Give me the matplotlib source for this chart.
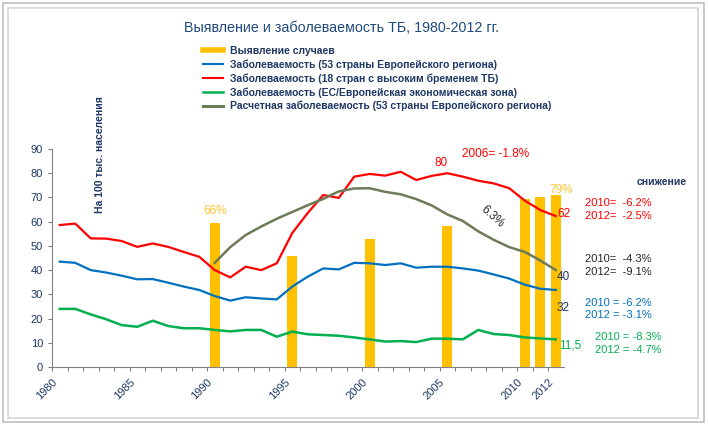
import matplotlib
matplotlib.use('Agg')
from matplotlib import pyplot as plt
from matplotlib.patches import Rectangle
from matplotlib.lines import Line2D
import numpy as np

plt.rcParams['font.family'] = ['Liberation Sans', 'DejaVu Sans']

YEARS = list(range(1980, 2013))

# Заболеваемость, 53 страны Европейского региона
EUR53 = [43.5, 43.0, 40.0, 39.0, 37.7, 36.2, 36.3, 34.8, 33.2, 31.8,
         29.3, 27.4, 28.8, 28.3, 27.9, 33.2, 37.3, 40.7, 40.3, 43.0,
         42.8, 42.1, 42.8, 41.0, 41.4, 41.4, 40.7, 39.8, 38.2, 36.5,
         34.0, 32.3, 31.8]
# Заболеваемость, 18 стран с высоким бременем ТБ
HBC18 = [58.6, 59.2, 53.1, 53.0, 52.0, 49.6, 51.0, 49.6, 47.5, 45.5,
         40.0, 37.0, 41.4, 40.0, 42.8, 55.3, 63.6, 71.0, 69.8, 78.6,
         79.7, 79.0, 80.6, 77.2, 78.9, 80.0, 78.6, 76.9, 75.8, 73.8,
         68.7, 64.8, 62.3]
# Заболеваемость, ЕС/ЕЭЗ
EU_EEA = [24.0, 24.0, 21.7, 19.7, 17.3, 16.6, 19.1, 16.9, 16.0, 16.0,
          15.3, 14.7, 15.3, 15.3, 12.5, 14.6, 13.5, 13.2, 12.9, 12.2,
          11.4, 10.5, 10.7, 10.3, 11.7, 11.7, 11.4, 15.3, 13.6, 13.2,
          12.2, 11.8, 11.4]
# Расчетная заболеваемость, 1990-2012
EST_YEARS = list(range(1990, 2013))
EST53 = [43.0, 49.5, 54.5, 58.0, 61.2, 64.0, 66.8, 69.4, 72.5, 73.7,
         73.8, 72.3, 71.3, 69.3, 66.7, 63.0, 60.3, 56.0, 52.5, 49.5,
         47.5, 44.0, 40.0]
# Выявление случаев, %
DET_YEARS = [1990, 1995, 2000, 2005, 2010, 2011, 2012]
DET_PCT = [66, 51, 59, 65, 77, 78, 79]

TICK_LABELS = {1980: '1980', 1985: '1985', 1990: '1990', 1995: '1995',
               2000: '2000', 2005: '2005', 2010: '2010', 2012: '2012'}

C_BAR = '#FFC000'
C_BLUE = '#0070C0'
C_RED = '#FF0000'
C_GREEN = '#00B050'
C_OLIVE = '#6E7B58'
C_TEXT = '#1F3864'

W, H = 708, 428
fig = plt.figure(figsize=(W / 100, H / 100), dpi=100)


def fx(px):
    return px / W


def fy(py):
    return 1 - py / H


# frame
fig.patches.append(Rectangle((fx(3), fy(422)), fx(701), 419 / H, transform=fig.transFigure,
                             fill=False, ec='#BFBFBF', lw=1.2))
fig.patches.append(Rectangle((fx(8), fy(418)), fx(690), 410 / H, transform=fig.transFigure,
                             fill=False, ec='#D4D4D4', lw=1.2))

ax = fig.add_axes([fx(52), fy(367), fx(563.5 - 52), (367 - 149) / H])
ax2 = ax.twinx()
ax.set_zorder(ax2.get_zorder() + 1)
ax.patch.set_visible(False)

ctr = lambda ys: np.array(ys) + 0.5

ax2.bar(ctr(DET_YEARS), DET_PCT, width=0.65, color=C_BAR)
ax2.set_ylim(0, 100.2)
ax2.set_yticks([])
for s in ax2.spines.values():
    s.set_visible(False)

ax.plot(ctr(YEARS), EUR53, color=C_BLUE, lw=1.6)
ax.plot(ctr(YEARS), HBC18, color=C_RED, lw=1.6)
ax.plot(ctr(YEARS), EU_EEA, color=C_GREEN, lw=1.8)
ax.plot(ctr(EST_YEARS), EST53, color=C_OLIVE, lw=1.8)

ax.set_xlim(1980, 2013)
ax.set_ylim(0, 90)
ax.set_yticks(range(0, 91, 10))
ax.set_xticks(YEARS)
ax.set_xticklabels([TICK_LABELS.get(y, '') for y in YEARS], rotation=45,
                   ha='right', rotation_mode='anchor')
ax.tick_params(axis='both', labelsize=8, labelcolor=C_TEXT, color='#808080',
               length=3, width=0.8)
ax.tick_params(axis='x', pad=4)
for side in ['top', 'right']:
    ax.spines[side].set_visible(False)
ax.spines['left'].set_color('#808080')
ax.spines['bottom'].set_color('#808080')

# annotations inside the plot
ax.text(1990.5, 64.4, '66%', color='#FFC72C', fontsize=8.5, ha='center', va='center')
ax.text(2012.84, 73.1, '79%', color='#FFC72C', fontsize=8.5, ha='center', va='center', clip_on=False)
ax.text(2005.1, 84.2, '80', color=C_RED, fontsize=8.5, ha='center', va='center')
ax.text(2008.6, 88.0, '2006= -1.8%', color=C_RED, fontsize=8.5, ha='center', va='center')
ax.text(2008.4, 62.1, '6.3%', color='#262626', fontsize=8.5, ha='center', va='center', rotation=-42)
ax.text(2013.0, 63.0, '62', color=C_RED, fontsize=8.5, ha='center', va='center', clip_on=False)
ax.text(2013.0, 37.3, '40', color=C_TEXT, fontsize=8.5, ha='center', va='center', clip_on=False)
ax.text(2013.0, 24.5, '32', color=C_TEXT, fontsize=8.5, ha='center', va='center', clip_on=False)
ax.text(2013.4, 8.8, '11,5', color=C_GREEN, fontsize=8.5, ha='center', va='center', clip_on=False)

fig.text(fx(100), fy(155), 'На 100 тыс. населения', rotation=90, color=C_TEXT,
         fontsize=7.5, fontweight='bold', ha='center', va='center')

# right-hand notes
fig.text(fx(662), fy(182), 'снижение', color=C_TEXT, fontsize=7.5, fontweight='bold',
         ha='center', va='center')
notes = [(585, 203.3, '2010=  -6.2%', C_RED), (585, 216, '2012=  -2.5%', C_RED),
         (585, 259.3, '2010=  -4.3%', '#262626'), (585, 272, '2012=  -9.1%', '#262626'),
         (585, 302.7, '2010 = -6.2%', C_BLUE), (585, 315.3, '2012 = -3.1%', C_BLUE),
         (595, 337.3, '2010 = -8.3%', C_GREEN), (595, 350, '2012 = -4.7%', C_GREEN)]
for x, y, s, c in notes:
    fig.text(fx(x), fy(y), s, color=c, fontsize=8, ha='left', va='center')

fig.text(fx(341.5), fy(28), 'Выявление и заболеваемость ТБ, 1980-2012 гг.', color='#1F497D',
         fontsize=10.3, ha='center', va='center')

handles = [Line2D([], [], color=C_BAR, lw=4),
           Line2D([], [], color=C_BLUE, lw=1.5),
           Line2D([], [], color=C_RED, lw=1.5),
           Line2D([], [], color=C_GREEN, lw=1.8),
           Line2D([], [], color=C_OLIVE, lw=2.2)]
labels = ['Выявление случаев',
          'Заболеваемость (53 страны Европейского региона)',
          'Заболеваемость (18 стран с высоким бременем ТБ)',
          'Заболеваемость (ЕС/Европейская экономическая зона)',
          'Расчетная заболеваемость (53 страны Европейского региона)']
leg = fig.legend(handles, labels, loc='upper left', bbox_to_anchor=(fx(203), fy(46)),
                 frameon=False, borderpad=0, borderaxespad=0, handlelength=1.9,
                 handletextpad=0.7, labelspacing=0.32,
                 prop={'size': 7.5, 'weight': 'bold'})
for t in leg.get_texts():
    t.set_color(C_TEXT)

fig.savefig('out.png', dpi=100)
